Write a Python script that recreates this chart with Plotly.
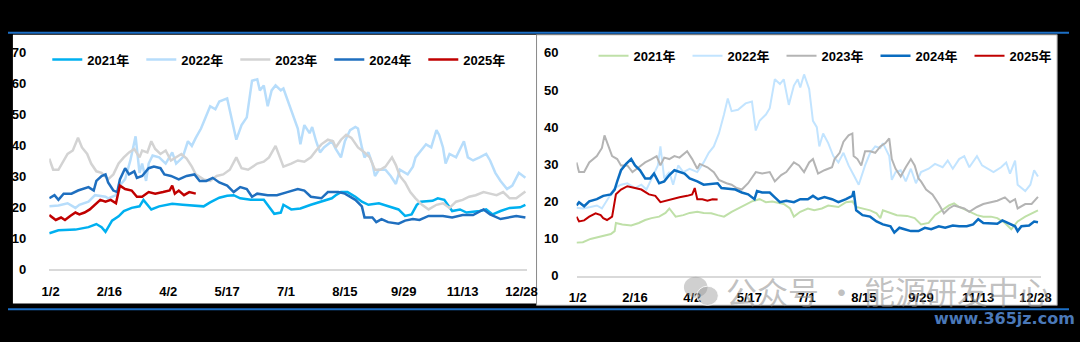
import plotly.graph_objects as go

W, H = 1080, 342

TICK_DAYS = [2, 47, 92, 137, 182, 227, 272, 317, 362]
TICK_TEXT = ["1/2", "2/16", "4/2", "5/17", "7/1", "8/15", "9/29", "11/13", "12/28"]
YEARS = ["2021年", "2022年", "2023年", "2024年", "2025年"]

# ---------------- left panel ----------------
L2021_D = [1, 8, 21, 31, 37, 41, 44, 46, 49, 54, 58, 64, 70, 73, 79, 85, 95, 103, 113, 119, 124, 131, 137, 142, 147, 155,
           165, 170, 173, 178, 180, 186, 193, 201, 209, 217, 220, 224, 229, 235, 240, 245, 253, 260, 268, 273, 278, 282,
           285, 294, 298, 303, 309, 315, 320, 330, 335, 340, 346, 353, 361, 365]
L2021_V = [11.5, 12.5, 12.7, 13.5, 14.5, 13.5, 12.0, 13.5, 15.6, 17.0, 18.7, 19.7, 20.2, 22.3, 19.2, 20.2, 21.0, 20.7,
           20.5, 20.2, 21.5, 23.0, 23.6, 23.8, 22.8, 22.3, 22.3, 19.7, 17.8, 18.2, 20.7, 19.2, 19.5, 20.7, 21.7, 22.8,
           23.8, 24.8, 24.8, 23.3, 21.7, 20.7, 21.2, 20.2, 19.2, 17.1, 17.6, 20.7, 21.7, 22.0, 22.8, 22.3, 18.7, 19.2,
           18.2, 18.7, 19.2, 17.6, 18.7, 19.7, 19.9, 20.7]

L2022_D = [1, 8, 15, 21, 24, 31, 36, 44, 46, 52, 55, 59, 63, 67, 70, 72, 75, 77, 80, 85, 90, 93, 95, 98, 103, 107, 110,
           113, 117, 120, 124, 128, 131, 137, 140, 144, 148, 152, 156, 160, 162, 165, 168, 171, 174, 178, 180, 184, 188,
           191, 193, 196, 200, 202, 205, 208, 211, 217, 220, 224, 227, 231, 235, 237, 240, 242, 245, 248, 250, 253, 258,
           262, 266, 269, 275, 279, 281, 285, 289, 293, 297, 299, 302, 304, 307, 312, 316, 318, 321, 325, 330, 335, 338,
           342, 346, 351, 355, 357, 360, 365]
L2022_V = [20.2, 20.5, 21.2, 19.7, 20.7, 21.7, 23.8, 23.3, 22.8, 23.8, 26.9, 29.0, 35.0, 42.8, 31.0, 34.0, 28.4, 34.0,
           36.6, 36.0, 34.0, 36.0, 37.6, 34.0, 36.0, 41.2, 39.7, 42.3, 45.3, 48.4, 52.5, 51.5, 54.0, 55.0, 49.4, 41.7,
           46.4, 48.9, 60.7, 61.2, 57.6, 59.2, 52.5, 57.6, 59.2, 57.6, 58.2, 53.5, 49.4, 45.3, 40.2, 46.4, 43.8, 45.8,
           41.2, 37.6, 39.2, 41.2, 38.7, 36.0, 41.2, 44.8, 45.8, 45.3, 39.2, 36.0, 37.6, 34.0, 30.0, 32.0, 32.0, 30.0,
           27.4, 32.0, 30.5, 33.0, 36.0, 38.2, 40.2, 39.2, 44.8, 43.3, 39.2, 34.0, 37.1, 36.0, 39.2, 41.2, 36.0, 35.0,
           36.0, 37.1, 35.0, 31.0, 28.4, 25.8, 26.9, 28.4, 31.0, 29.4]

L2023_D = [1, 4, 8, 12, 15, 19, 23, 26, 30, 33, 37, 41, 46, 50, 54, 58, 62, 66, 70, 72, 76, 79, 82, 86, 90, 94, 98, 102,
           106, 110, 113, 119, 124, 129, 134, 139, 144, 148, 153, 160, 165, 169, 174, 177, 180, 186, 191, 196, 201, 205,
           209, 214, 218, 220, 224, 228, 232, 237, 242, 246, 250, 254, 258, 263, 266, 269, 273, 277, 281, 286, 291, 297,
           302, 307, 312, 317, 322, 327, 333, 338, 343, 348, 353, 358, 365]
L2023_V = [35.6, 32.0, 32.0, 35.0, 37.1, 38.2, 42.3, 39.2, 37.1, 34.0, 31.5, 31.0, 28.9, 30.5, 34.0, 36.0, 37.6, 38.7,
           36.0, 38.2, 37.6, 41.2, 38.7, 37.1, 38.2, 35.0, 36.0, 37.1, 35.6, 33.0, 30.5, 28.9, 28.4, 30.0, 30.5, 32.0,
           36.0, 32.5, 32.0, 34.0, 34.6, 36.0, 39.7, 36.0, 33.0, 34.0, 35.0, 34.6, 36.0, 38.2, 40.2, 41.7, 41.2, 39.2,
           41.7, 43.3, 42.3, 39.2, 37.6, 36.0, 32.0, 32.0, 33.0, 36.0, 33.5, 30.0, 27.9, 24.8, 22.8, 20.7, 19.2, 20.7,
           21.2, 19.7, 21.7, 22.3, 23.3, 23.8, 24.8, 24.3, 23.8, 24.8, 22.8, 22.8, 25.0]

L2024_D = [1, 5, 8, 12, 18, 23, 31, 35, 37, 41, 44, 46, 50, 53, 55, 59, 62, 66, 68, 72, 77, 81, 86, 89, 94, 100, 106, 112,
           116, 121, 126, 131, 137, 142, 147, 152, 156, 160, 168, 175, 183, 191, 196, 201, 209, 214, 222, 227, 235, 240,
           242, 248, 251, 255, 260, 268, 273, 279, 284, 291, 302, 309, 317, 325, 333, 338, 346, 353, 358, 365]
L2024_V = [22.8, 23.8, 22.3, 24.3, 24.3, 25.3, 26.4, 25.3, 28.4, 30.0, 30.5, 27.9, 25.3, 24.8, 28.9, 32.5, 30.5, 31.5,
           29.4, 30.0, 32.5, 33.0, 32.5, 30.5, 30.0, 28.9, 30.0, 30.5, 28.4, 28.4, 29.4, 27.9, 26.9, 24.8, 26.4, 25.8,
           23.3, 24.3, 23.8, 23.8, 24.8, 25.8, 25.3, 23.3, 22.8, 24.8, 24.8, 24.3, 22.3, 20.2, 16.6, 16.6, 15.1, 16.1,
           15.1, 14.6, 15.6, 16.1, 15.8, 17.1, 17.1, 16.6, 17.4, 17.4, 19.2, 17.6, 16.1, 16.6, 17.1, 16.6]

L2025_D = [1, 4, 6, 10, 13, 17, 21, 24, 28, 32, 36, 40, 44, 48, 52, 55, 59, 64, 68, 72, 77, 82, 88, 93, 95, 97, 100, 104,
           108, 113]
L2025_V = [17.4, 16.6, 15.8, 16.6, 15.8, 17.1, 18.2, 17.6, 18.2, 19.2, 20.7, 22.3, 21.7, 22.3, 21.2, 26.9, 25.8, 25.3,
           23.3, 23.3, 24.8, 24.3, 24.8, 25.3, 26.9, 24.3, 25.3, 23.8, 24.8, 24.3]

# ---------------- right panel ----------------
R2021_D = [1, 6, 12, 17, 22, 28, 31, 32, 37, 44, 50, 55, 60, 66, 71, 74, 79, 85, 90, 96, 101, 107, 112, 117, 123, 128,
           134, 139, 145, 150, 155, 164, 169, 172, 177, 183, 188, 194, 199, 207, 213, 218, 221, 226, 232, 237, 240, 242,
           248, 253, 261, 267, 272, 278, 283, 289, 294, 298, 302, 308, 316, 321, 327, 332, 338, 343, 348, 354, 359, 364]
R2021_V = [8.9, 9.0, 9.9, 10.3, 10.6, 11.2, 12.0, 14.2, 13.8, 13.5, 14.2, 15.0, 15.5, 15.9, 16.9, 18.1, 15.9, 16.3, 16.9,
           17.2, 16.9, 16.8, 16.3, 15.9, 17.2, 18.1, 19.2, 20.0, 20.6, 19.8, 20.0, 19.3, 18.1, 15.9, 17.2, 18.1, 17.6,
           18.1, 18.9, 18.5, 19.8, 20.0, 18.5, 18.1, 17.6, 16.8, 15.5, 17.6, 16.9, 16.3, 16.1, 15.5, 13.8, 14.2, 16.3,
           17.6, 18.9, 19.5, 18.5, 17.6, 16.3, 15.9, 15.9, 15.5, 14.2, 12.5, 14.6, 15.9, 16.8, 17.6]

R2022_D = [1, 6, 12, 17, 21, 25, 31, 36, 41, 47, 52, 56, 60, 65, 67, 70, 74, 77, 81, 85, 90, 96, 101, 105, 109, 113,
           117, 120, 123, 128, 134, 139, 142, 145, 150, 153, 157, 161, 164, 168, 172, 175, 177, 180, 184, 187, 190, 192,
           195, 199, 203, 207, 211, 215, 219, 223, 228, 232, 236, 240, 242, 247, 249, 252, 256, 260, 264, 268, 272, 278,
           283, 289, 293, 297, 302, 306, 310, 316, 320, 324, 329, 335, 339, 342, 346, 348, 354, 358, 361, 364]
R2022_V = [18.3, 18.1, 18.5, 18.9, 18.1, 20.2, 23.6, 24.5, 24.9, 23.6, 24.5, 23.2, 26.2, 29.7, 34.8, 26.2, 27.9, 24.5,
           29.7, 27.9, 28.8, 27.9, 30.5, 33.1, 34.8, 38.3, 43.4, 47.7, 44.3, 44.7, 46.4, 46.9, 39.1, 41.7, 43.4, 45.1,
           52.9, 51.6, 52.9, 46.0, 51.2, 52.9, 50.7, 54.2, 50.3, 41.7, 40.0, 34.8, 38.3, 35.7, 32.2, 30.5, 33.1, 29.7,
           27.1, 24.5, 29.7, 33.1, 34.8, 34.4, 35.7, 32.2, 25.8, 27.9, 28.4, 25.4, 28.8, 24.9, 27.9, 28.8, 30.1, 29.2,
           31.0, 28.8, 31.4, 32.2, 29.2, 32.2, 29.7, 28.8, 27.9, 29.2, 30.5, 27.5, 31.0, 24.5, 22.8, 24.5, 28.4, 26.7]

R2023_D = [1, 3, 7, 11, 17, 21, 23, 26, 29, 33, 36, 41, 45, 50, 55, 60, 64, 67, 70, 74, 78, 82, 88, 92, 96, 98, 104, 109,
           113, 119, 123, 127, 131, 136, 142, 147, 153, 157, 162, 166, 172, 176, 180, 184, 187, 191, 196, 202, 204, 208,
           211, 215, 218, 219, 222, 225, 228, 232, 236, 240, 244, 247, 249, 252, 256, 260, 264, 267, 270, 272, 276, 281,
           286, 290, 294, 298, 302, 306, 310, 316, 321, 327, 332, 338, 342, 346, 348, 354, 359, 364]
R2023_V = [30.5, 27.9, 27.9, 30.5, 32.2, 34.4, 37.8, 34.8, 32.2, 31.4, 29.7, 29.7, 27.9, 29.2, 30.5, 31.4, 32.2, 29.7,
           31.8, 31.4, 32.2, 31.8, 33.5, 31.4, 28.8, 30.1, 29.2, 27.9, 25.8, 24.9, 24.5, 23.6, 23.2, 24.9, 27.9, 27.5,
           27.9, 25.4, 27.1, 27.9, 30.5, 29.7, 27.9, 30.5, 31.4, 27.5, 28.4, 29.2, 31.4, 33.1, 36.1, 37.8, 38.3, 32.2,
           31.4, 29.7, 33.5, 33.5, 33.1, 34.8, 35.7, 37.0, 31.4, 28.8, 26.7, 29.2, 31.4, 29.7, 26.2, 25.4, 23.2, 21.9,
           19.3, 16.8, 18.1, 18.9, 18.5, 18.1, 17.2, 18.5, 19.3, 19.8, 20.2, 21.1, 19.8, 20.6, 18.1, 19.3, 19.3, 21.2]

R2024_D = [1, 3, 7, 11, 17, 22, 28, 31, 33, 36, 40, 44, 47, 51, 55, 59, 62, 66, 70, 74, 78, 82, 86, 90, 96, 101, 107,
           112, 115, 120, 126, 131, 136, 141, 143, 147, 153, 157, 161, 166, 172, 177, 183, 187, 191, 196, 202, 207, 213,
           218, 219, 221, 226, 232, 237, 242, 248, 251, 255, 259, 264, 270, 275, 280, 286, 291, 297, 302, 308, 313, 317,
           321, 327, 332, 336, 340, 346, 348, 351, 357, 361, 364]
R2024_V = [18.9, 19.8, 18.7, 20.0, 20.6, 21.5, 21.9, 23.2, 25.4, 28.4, 30.1, 31.4, 29.7, 28.4, 26.2, 26.2, 27.5, 24.9,
           25.4, 27.1, 28.4, 27.9, 27.5, 26.2, 25.4, 24.5, 24.7, 24.9, 23.6, 23.5, 23.2, 22.4, 21.9, 20.6, 22.8, 22.4,
           22.4, 21.1, 19.8, 20.2, 19.8, 20.6, 20.6, 21.5, 20.6, 21.2, 20.6, 19.8, 20.6, 21.5, 22.8, 17.6, 16.3, 15.9,
           14.6, 13.8, 13.3, 11.6, 12.9, 12.5, 12.0, 12.0, 12.9, 12.5, 13.3, 12.9, 13.5, 13.3, 13.3, 13.8, 15.2, 14.2,
           14.2, 14.0, 14.9, 14.2, 13.3, 12.0, 13.3, 13.5, 14.6, 14.4]

R2025_D = [1, 3, 7, 11, 16, 20, 22, 25, 29, 32, 36, 41, 47, 52, 58, 63, 67, 71, 77, 82, 88, 92, 94, 96, 100, 104, 108,
           112]
R2025_V = [15.9, 14.6, 14.9, 15.9, 16.8, 16.3, 15.5, 15.0, 15.9, 21.9, 23.2, 24.1, 23.6, 23.2, 21.9, 21.5, 19.8, 20.2,
           20.6, 21.1, 21.5, 21.9, 23.6, 20.6, 20.6, 20.2, 20.6, 20.5]

LEFT = [(L2021_D, L2021_V), (L2022_D, L2022_V), (L2023_D, L2023_V), (L2024_D, L2024_V), (L2025_D, L2025_V)]
RIGHT = [(R2021_D, R2021_V), (R2022_D, R2022_V), (R2023_D, R2023_V), (R2024_D, R2024_V), (R2025_D, R2025_V)]
LEFT_COLORS = ["#00b0f0", "#b7ddfb", "#d3d3d3", "#1f6fbf", "#c00000"]
RIGHT_COLORS = ["#bfe0a8", "#c2e4ff", "#b4b4b4", "#0a6cc0", "#c00000"]
LEFT_WIDTHS = [2.5, 2.5, 2.5, 2.5, 2.5]
RIGHT_WIDTHS = [2, 2, 2, 2.5, 2]

FONT = "Liberation Sans, Arial, Noto Sans CJK SC, sans-serif"


def px(x):
    return x / W


def py(y):
    return 1 - y / H


fig = go.Figure()
for i, (d, v) in enumerate(LEFT):
    fig.add_trace(go.Scatter(x=d, y=v, mode="lines", name=YEARS[i], xaxis="x", yaxis="y", legend="legend",
                             line=dict(color=LEFT_COLORS[i], width=LEFT_WIDTHS[i])))
for i, (d, v) in enumerate(RIGHT):
    fig.add_trace(go.Scatter(x=d, y=v, mode="lines", name=YEARS[i], xaxis="x2", yaxis="y2", legend="legend2",
                             line=dict(color=RIGHT_COLORS[i], width=RIGHT_WIDTHS[i])))

tickfont = dict(family=FONT, size=13, color="#000000", weight="bold")
xcommon = dict(range=[1, 366], tickmode="array", tickvals=TICK_DAYS, ticktext=TICK_TEXT, showgrid=False,
               zeroline=False, showline=True, linecolor="#d9d9d9", linewidth=2, ticks="", tickfont=tickfont,
               ticklabelstandoff=9, fixedrange=True)
ycommon = dict(dtick=10, showgrid=False, zeroline=False, showline=False, ticks="", tickfont=tickfont,
               fixedrange=True)

shapes = [
    dict(type="rect", xref="paper", yref="paper", x0=px(5), x1=px(538), y0=py(310), y1=py(29),
         fillcolor="#ffffff", line=dict(width=0), layer="below"),
    dict(type="rect", xref="paper", yref="paper", x0=px(538), x1=px(1068), y0=py(312), y1=py(29),
         fillcolor="#ffffff", line=dict(color="#8c8c8c", width=1), layer="below"),
    dict(type="line", xref="paper", yref="paper", x0=0, x1=1, y0=py(27), y1=py(27),
         line=dict(color="#1c6fc6", width=2), layer="below"),
    dict(type="line", xref="paper", yref="paper", x0=0, x1=1, y0=py(316), y1=py(316),
         line=dict(color="#1c6fc6", width=2), layer="below"),
    # watermark icon (two speech bubbles)
    dict(type="circle", xref="paper", yref="paper", x0=px(688), x1=px(712), y0=py(304), y1=py(282),
         fillcolor="rgba(150,150,150,0.45)", line=dict(width=0), layer="above"),
    dict(type="circle", xref="paper", yref="paper", x0=px(701), x1=px(723), y0=py(312), y1=py(292),
         fillcolor="rgba(150,150,150,0.45)", line=dict(color="rgba(255,255,255,0.8)", width=1), layer="above"),
]

legfont = dict(family=FONT, size=13, color="#000000", weight="bold")
fig.update_layout(
    width=W, height=H, autosize=False,
    margin=dict(l=0, r=0, t=0, b=0, pad=0),
    paper_bgcolor="#000000", plot_bgcolor="rgba(0,0,0,0)",
    showlegend=True,
    xaxis=dict(domain=[px(42), px(528)], anchor="y", **xcommon),
    yaxis=dict(domain=[py(274), py(47)], range=[0, 70], anchor="x", ticklabelstandoff=22, **ycommon),
    xaxis2=dict(domain=[px(578.7), px(1051)], anchor="y2", **xcommon),
    yaxis2=dict(domain=[py(281), py(48)], range=[0, 60], anchor="x2", ticklabelstandoff=17, **ycommon),
    legend=dict(orientation="h", x=px(40), xanchor="left", y=py(55), yanchor="middle",
                bgcolor="rgba(0,0,0,0)", borderwidth=0, font=legfont, itemwidth=30,
                entrywidth=49, entrywidthmode="pixels", itemclick=False, itemdoubleclick=False),
    legend2=dict(orientation="h", x=px(596), xanchor="left", y=py(51), yanchor="middle",
                 bgcolor="rgba(0,0,0,0)", borderwidth=0, font=legfont, itemwidth=30,
                 entrywidth=49, entrywidthmode="pixels", itemclick=False, itemdoubleclick=False),
    shapes=shapes,
    annotations=[
        dict(xref="paper", yref="paper", x=px(896), y=py(297), text="公众号 · 能源研发中心", showarrow=False,
             font=dict(family="Noto Sans CJK SC", size=31, color="rgba(140,140,140,0.55)"),
             xanchor="center", yanchor="middle"),
        dict(xref="paper", yref="paper", x=px(1014), y=py(326), text="www.365jz.com", showarrow=False,
             font=dict(family="DejaVu Sans", size=16, color="#4a78b8", weight="bold"),
             xanchor="center", yanchor="middle"),
    ],
)

fig.write_html("out.html", config={"displayModeBar": False})
